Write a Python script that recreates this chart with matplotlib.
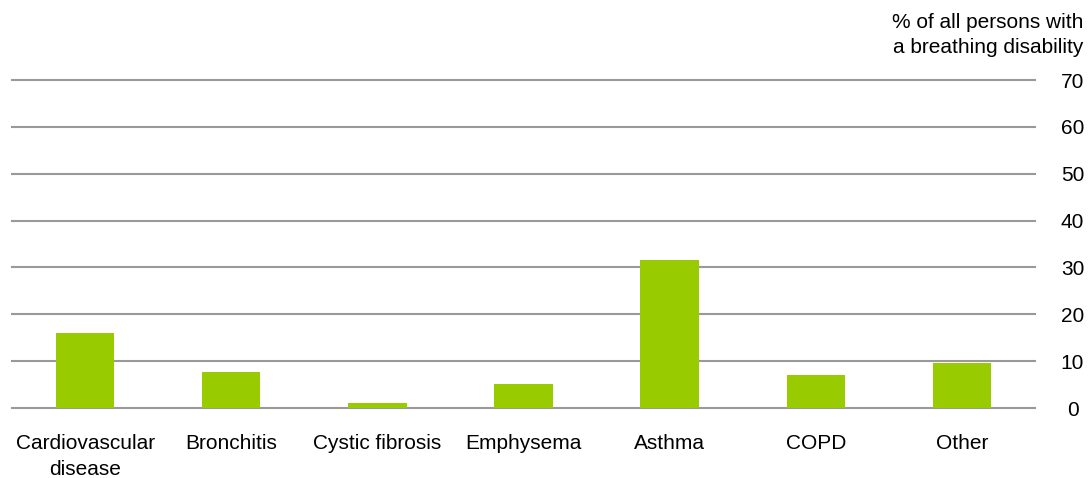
import matplotlib
matplotlib.use("Agg")
import matplotlib.pyplot as plt

categories = ["Cardiovascular\ndisease", "Bronchitis", "Cystic fibrosis", "Emphysema",
              "Asthma", "COPD", "Other"]
values = [16.1, 7.6, 1.0, 5.1, 31.6, 7.1, 9.7]
yticks = [0, 10, 20, 30, 40, 50, 60, 70]

plt.rcParams['font.family'] = ['Liberation Sans', 'DejaVu Sans']

W, H = 1090, 478
fig = plt.figure(figsize=(W / 100, H / 100), dpi=100)
ax = fig.add_axes([12 / W, (H - 408) / H, (1035 - 12) / W, (408 - 80) / H])

x = list(range(len(categories)))
ax.bar(x, values, width=0.4, color="#99CC00", zorder=3)
ax.set_xlim(-0.5, len(categories) - 0.5)
ax.set_ylim(0, 70)
ax.set_yticks(yticks)
ax.set_yticklabels([str(t) for t in yticks])
ax.yaxis.tick_right()
for lab in ax.get_yticklabels():
    lab.set_horizontalalignment('center')
ax.tick_params(axis='y', length=0, pad=27, labelsize=15, colors='#000000')
ax.set_xticks(x)
ax.set_xticklabels(categories, fontsize=15, linespacing=1.45)
ax.tick_params(axis='x', length=0, pad=19)
ax.grid(axis='y', color='#999999', linewidth=1.5, zorder=0)
for gl in ax.get_ygridlines():
    gl.set_clip_on(False)
for s in ax.spines.values():
    s.set_visible(False)

fig.text(1083 / W, 1 - 13 / H, "% of all persons with\na breathing disability",
         ha='right', va='top', fontsize=15, linespacing=1.4)

fig.savefig("out.png", dpi=100)
